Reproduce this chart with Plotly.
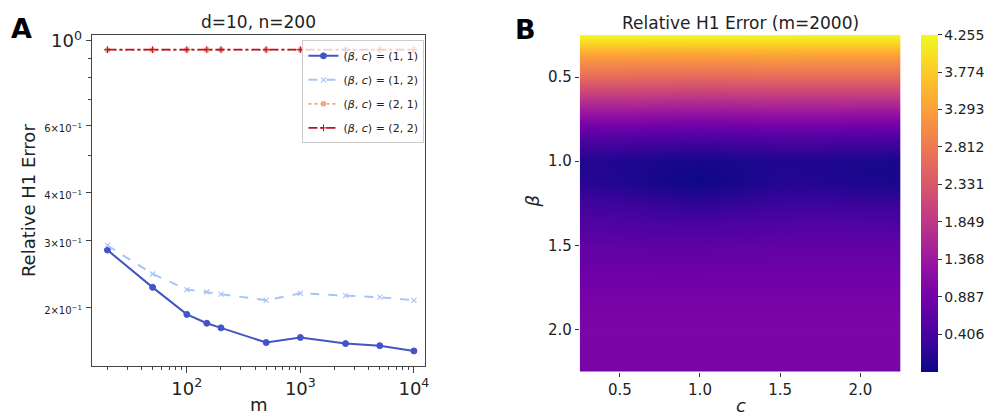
import plotly.graph_objects as go

W, H = 987, 419

# ---------------- data ----------------
m_vals = [20, 50, 100, 150, 200, 500, 1000, 2500, 5000, 10000]
err_b1_c1 = [0.283, 0.226, 0.192, 0.182, 0.177, 0.162, 0.167, 0.161, 0.159, 0.154]
err_b1_c2 = [0.291, 0.245, 0.223, 0.220, 0.217, 0.209, 0.218, 0.215, 0.213, 0.209]
err_b2_c1 = [0.946, 0.946, 0.947, 0.947, 0.947, 0.947, 0.947, 0.947, 0.947, 0.947]
err_b2_c2 = [0.948, 0.948, 0.948, 0.948, 0.948, 0.948, 0.948, 0.948, 0.948, 0.948]
series_names = ["(<i>β</i>, <i>c</i>) = (1, 1)", "(<i>β</i>, <i>c</i>) = (1, 2)",
                "(<i>β</i>, <i>c</i>) = (2, 1)", "(<i>β</i>, <i>c</i>) = (2, 2)"]

y_tick_vals = [0.2, 0.3, 0.4, 0.6, 1.0]
y_tick_text = ['<span style="font-size:10px">2×10<sup>−1</sup></span>',
               '<span style="font-size:10px">3×10<sup>−1</sup></span>',
               '<span style="font-size:10px">4×10<sup>−1</sup></span>',
               '<span style="font-size:10px">6×10<sup>−1</sup></span>',
               '10<sup>0</sup>']
x_tick_vals = [100, 1000, 10000]
x_tick_text = ['10<sup>2</sup>', '10<sup>3</sup>', '10<sup>4</sup>']

c_grid = [0.25, 0.5, 0.75, 1.0, 1.25, 1.5, 1.75, 2.0, 2.25]
beta_grid = [0.25, 0.375, 0.5, 0.625, 0.75, 0.875, 1.0, 1.125, 1.25, 1.375,
             1.5, 1.625, 1.75, 1.875, 2.0, 2.125, 2.25]
Z = [
    [4.25, 4.25, 4.25, 4.255, 4.25, 4.25, 4.24, 4.24, 4.24],
    [3.28, 3.28, 3.26, 3.26, 3.28, 3.30, 3.28, 3.28, 3.28],
    [2.62, 2.61, 2.60, 2.58, 2.60, 2.62, 2.62, 2.61, 2.61],
    [1.84, 1.84, 1.82, 1.80, 1.82, 1.84, 1.84, 1.83, 1.83],
    [1.10, 1.10, 1.08, 1.06, 1.08, 1.10, 1.10, 1.08, 1.08],
    [0.47, 0.46, 0.43, 0.40, 0.43, 0.46, 0.46, 0.44, 0.42],
    [0.10, 0.08, 0.03, 0.00, 0.04, 0.08, 0.07, 0.04, 0.02],
    [0.15, 0.10, 0.00, -0.07, 0.02, 0.12, 0.10, 0.05, 0.03],
    [0.36, 0.32, 0.24, 0.20, 0.25, 0.31, 0.32, 0.30, 0.28],
    [0.53, 0.51, 0.46, 0.45, 0.48, 0.51, 0.53, 0.52, 0.50],
    [0.68, 0.68, 0.66, 0.66, 0.68, 0.70, 0.70, 0.70, 0.70],
    [0.80, 0.80, 0.79, 0.79, 0.80, 0.81, 0.81, 0.81, 0.81],
    [0.90, 0.90, 0.89, 0.89, 0.90, 0.90, 0.90, 0.90, 0.90],
    [0.96, 0.96, 0.96, 0.96, 0.96, 0.96, 0.96, 0.96, 0.96],
    [0.99, 0.99, 0.99, 0.99, 0.99, 0.99, 0.99, 0.99, 0.99],
    [0.98, 0.98, 0.98, 0.98, 0.98, 0.98, 0.98, 0.98, 0.98],
    [0.96, 0.96, 0.96, 0.96, 0.96, 0.96, 0.96, 0.96, 0.96],
]
cb_tick_vals = [0.406, 0.887, 1.368, 1.849, 2.331, 2.812, 3.293, 3.774, 4.255]
z_min, z_max = -0.075, 4.255


def px(x):
    return x / W


def py(y):
    return 1 - y / H


FONT = "DejaVu Sans"
TXT = "#222222"

fig = go.Figure()

styles = [
    dict(color="#4355c4", dash="solid", symbol="circle", size=6, mw=1, lw=2),
    dict(color="#a9c4f7", dash="dash", symbol="x-thin", size=5, mw=1.2, lw=2),
    dict(color="#f2a582", dash="dot", symbol="square", size=4, mw=1, lw=1.8),
    dict(color="#b8122b", dash="dashdot", symbol="cross-thin", size=5, mw=1, lw=1.6),
]
for i, (name, ys, st) in enumerate(zip(series_names, [err_b1_c1, err_b1_c2, err_b2_c1, err_b2_c2], styles)):
    fig.add_trace(go.Scatter(
        x=m_vals, y=ys, name=name, mode="lines+markers", legendgroup=f"g{i}",
        line=dict(color=st["color"], dash=st["dash"], width=st["lw"]),
        marker=dict(symbol=st["symbol"], size=st["size"], color=st["color"],
                    line=dict(color=st["color"], width=st["mw"])),
        xaxis="x", yaxis="y"))

fig.add_trace(go.Heatmap(
    x=c_grid, y=beta_grid, z=Z, colorscale="Plasma", zmin=z_min, zmax=z_max,
    zsmooth="best", xaxis="x2", yaxis="y2", showscale=True,
    colorbar=dict(x=px(926), xanchor="left", xpad=0,
                  y=py(370.7), yanchor="bottom", ypad=0,
                  len=343.4 / H, lenmode="fraction",
                  thickness=17, thicknessmode="pixels",
                  tickmode="array", tickvals=cb_tick_vals,
                  ticktext=[f"{v:.3f}" for v in cb_tick_vals],
                  ticks="outside", ticklen=4, tickcolor="#333",
                  outlinewidth=0,
                  tickfont=dict(family=FONT, size=14, color=TXT))))

axis_line = dict(showline=True, linecolor="#444", linewidth=1, mirror=True,
                 showgrid=False, zeroline=False, ticks="outside", tickcolor="#444")

fig.update_layout(
    width=W, height=H, margin=dict(l=0, r=0, t=0, b=0),
    paper_bgcolor="white", plot_bgcolor="white",
    font=dict(family=FONT, color=TXT),
    xaxis=dict(type="log", domain=[px(92), px(427)], anchor="y",
               range=[1.161, 4.096], tickmode="array", tickvals=x_tick_vals,
               ticktext=x_tick_text, ticklen=6,
               tickfont=dict(size=18, family=FONT, color=TXT),
               minor=dict(dtick="D1", ticks="outside", ticklen=3, tickcolor="#444"),
               **axis_line),
    yaxis=dict(type="log", domain=[py(365), py(28)], anchor="x",
               range=[-0.852, 0.014], tickmode="array", tickvals=y_tick_vals,
               ticktext=y_tick_text, ticklen=5,
               tickfont=dict(size=18, family=FONT, color=TXT),
               minor=dict(dtick="D1", ticks="outside", ticklen=3, tickcolor="#444"),
               **axis_line),
    xaxis2=dict(domain=[px(582.7), px(905)], anchor="y2", range=[0.25, 2.25],
                tickmode="array", tickvals=[0.5, 1.0, 1.5, 2.0],
                ticktext=["0.5", "1.0", "1.5", "2.0"], ticks="outside", ticklen=4,
                tickcolor="#333", showgrid=False, zeroline=False, showline=False,
                tickfont=dict(size=15, family=FONT, color=TXT)),
    yaxis2=dict(domain=[py(370.7), py(27.5)], anchor="x2", range=[2.25, 0.25],
                tickmode="array", tickvals=[0.5, 1.0, 1.5, 2.0],
                ticktext=["0.5", "1.0", "1.5", "2.0"], ticks="outside", ticklen=4,
                tickcolor="#333", showgrid=False, zeroline=False, showline=False,
                tickfont=dict(size=15, family=FONT, color=TXT)),
    legend=dict(x=px(304), y=py(33), xanchor="left", yanchor="top",
                bgcolor="rgba(255,255,255,0.8)", bordercolor="#cccccc", borderwidth=1,
                font=dict(family=FONT, size=11, color=TXT), tracegroupgap=5,
                itemwidth=30),
    showlegend=True,
)

annotations = [
    dict(text="<b>A</b>", x=px(22), y=py(21), font=dict(size=27, color="black")),
    dict(text="<b>B</b>", x=px(528), y=py(22), font=dict(size=27, color="black")),
    dict(text="d=10, n=200", x=px(260), y=py(14), font=dict(size=17)),
    dict(text="Relative H1 Error (m=2000)", x=px(744), y=py(15), font=dict(size=17)),
    dict(text="Relative H1 Error", x=px(28), y=py(196), textangle=-90, font=dict(size=18)),
    dict(text="m", x=px(260), y=py(404), font=dict(size=18)),
    dict(text="<i>β</i>", x=px(535), y=py(197), textangle=-90, font=dict(size=18)),
    dict(text="<i>c</i>", x=px(745), y=py(405), font=dict(size=18)),
]
for a in annotations:
    a.update(xref="paper", yref="paper", showarrow=False, xanchor="center", yanchor="middle")
    a["font"].setdefault("family", FONT)
    a["font"].setdefault("color", TXT)
fig.update_layout(annotations=annotations)

post = (
    "document.documentElement.style.margin='0px';"
    "document.body.style.margin='0px';document.body.style.padding='0px';"
    "document.body.style.overflow='hidden';"
    "var gd=document.getElementsByClassName('plotly-graph-div')[0];"
    "gd.style.position='fixed';gd.style.top='0px';gd.style.left='0px';"
)
fig.write_html("out.html", config={"displayModeBar": False}, post_script=post)
